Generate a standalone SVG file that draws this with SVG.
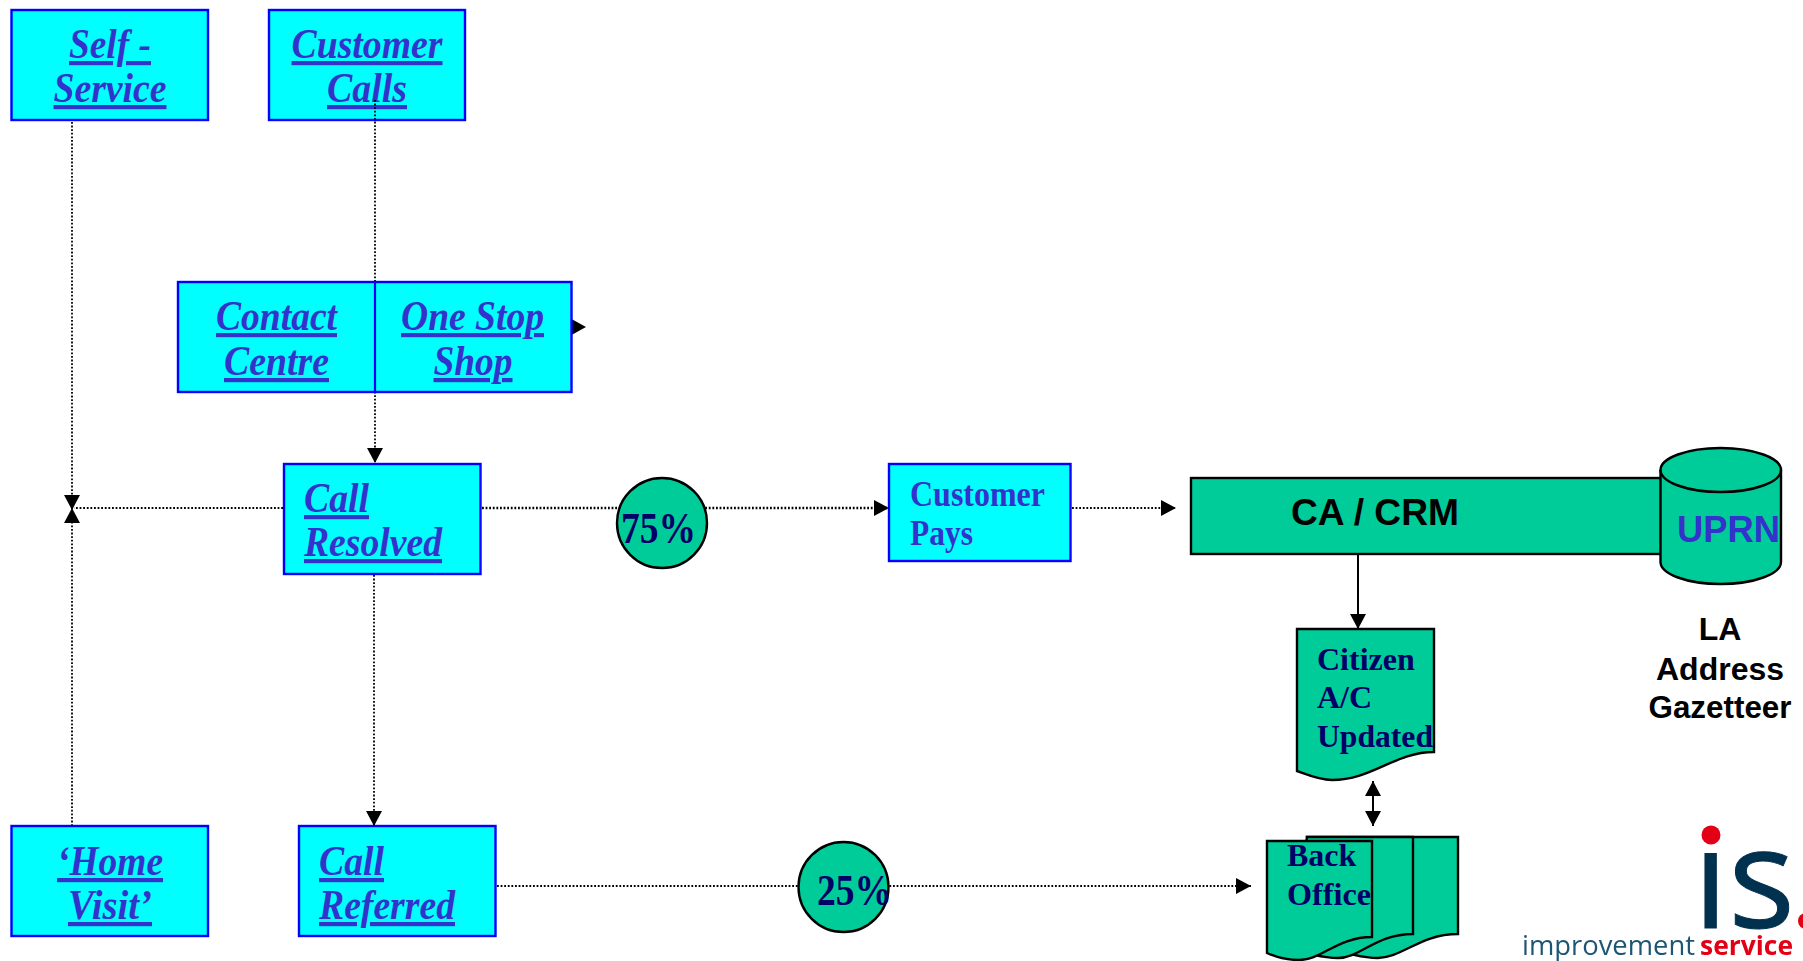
<svg xmlns="http://www.w3.org/2000/svg" width="1803" height="961" viewBox="0 0 1803 961">
<style>
.box{fill:#00ffff;stroke:#0000ff;stroke-width:2.4}
.green{fill:#00cc99;stroke:#000;stroke-width:2.4}
.it{font:italic bold 42px "Liberation Serif",serif;fill:#3333cc;text-decoration:underline;text-decoration-thickness:3.6px;text-underline-offset:3px}
.se{font:bold 36px "Liberation Serif",serif;fill:#3333cc}
.dk{font:bold 32px "Liberation Serif",serif;fill:#000066}
.pc{font:bold 44px "Liberation Serif",serif;fill:#000066}
.sa{font:bold 32px "Liberation Sans",sans-serif;fill:#000}
.m{text-anchor:middle}
.dot{fill:none;stroke:#000;stroke-width:1.8;stroke-dasharray:1.8 1.8}
.sol{fill:none;stroke:#000;stroke-width:2}
</style>
<defs>
<marker id="ah" markerUnits="userSpaceOnUse" markerWidth="16" markerHeight="16" refX="15" refY="8" orient="auto-start-reverse"><path d="M0 0L15 8L0 16Z" fill="#000"/></marker>
<filter id="soft" x="-5%" y="-5%" width="110%" height="110%"><feGaussianBlur stdDeviation="0.7"/></filter>
</defs>
<rect width="1803" height="961" fill="#fff"/>
<g id="self-service"><rect class="box" x="11.500" y="10" width="196.500" height="110"/><text class="it m" x="110" y="58" textLength="82" lengthAdjust="spacingAndGlyphs">Self -</text><text class="it m" x="110" y="102" textLength="113" lengthAdjust="spacingAndGlyphs">Service</text></g>
<g id="customer-calls"><rect class="box" x="269" y="10" width="196" height="110"/><text class="it m" x="367" y="58" textLength="151" lengthAdjust="spacingAndGlyphs">Customer</text><text class="it m" x="367" y="102" textLength="80" lengthAdjust="spacingAndGlyphs">Calls</text></g>
<g id="call-resolved"><rect class="box" x="284" y="464" width="196.500" height="110"/><text class="it" x="304" y="512" textLength="65" lengthAdjust="spacingAndGlyphs">Call</text><text class="it" x="304" y="556" textLength="138" lengthAdjust="spacingAndGlyphs">Resolved</text></g>
<g id="home-visit"><rect class="box" x="11.500" y="826" width="196.500" height="110"/><text class="it m" x="110" y="875" textLength="106" lengthAdjust="spacingAndGlyphs">‘Home</text><text class="it m" x="110" y="919" textLength="84" lengthAdjust="spacingAndGlyphs">Visit’</text></g>
<g id="call-referred"><rect class="box" x="299" y="826" width="196.500" height="110"/><text class="it" x="319" y="875" textLength="65" lengthAdjust="spacingAndGlyphs">Call</text><text class="it" x="319" y="919" textLength="136" lengthAdjust="spacingAndGlyphs">Referred</text></g>
<g id="customer-pays"><rect class="box" x="889" y="464" width="181.500" height="97"/><text class="se" x="910" y="506" textLength="135" lengthAdjust="spacingAndGlyphs">Customer</text><text class="se" x="910" y="545" textLength="63" lengthAdjust="spacingAndGlyphs">Pays</text></g>
<g id="connectors">
<path class="dot" d="M72 122V510" marker-end="url(#ah)"/>
<path class="dot" d="M72 826V508" marker-end="url(#ah)"/>
<path class="dot" d="M375 100V463" marker-end="url(#ah)"/>
<path class="dot" d="M283 508H74"/>
<path class="dot" style="stroke-width:2.400" d="M482 508H889" marker-end="url(#ah)"/>
<path class="dot" d="M1072 508H1176" marker-end="url(#ah)"/>
<path class="dot" d="M374 575V826" marker-end="url(#ah)"/>
<path class="dot" d="M497 886H1251" marker-end="url(#ah)"/>
<path class="sol" d="M1358 554V629" marker-end="url(#ah)"/>
<path class="sol" d="M1373 781V826" marker-start="url(#ah)" marker-end="url(#ah)"/>
<path d="M571.500 319L586 327L571.500 335Z" fill="#000"/>
</g>
<g id="contact-one-stop"><rect class="box" x="178" y="282" width="393.500" height="110"/><path d="M375 282V392" stroke="#0000ff" stroke-width="2.200" fill="none"/><text class="it m" x="276.500" y="330" textLength="121" lengthAdjust="spacingAndGlyphs">Contact</text><text class="it m" x="276.500" y="375" textLength="105" lengthAdjust="spacingAndGlyphs">Centre</text><text class="it m" x="472.500" y="330" textLength="143" lengthAdjust="spacingAndGlyphs">One Stop</text><text class="it m" x="473" y="375" textLength="79" lengthAdjust="spacingAndGlyphs">Shop</text></g>
<g id="pct-75"><circle class="green" cx="662" cy="523" r="45"/><text class="pc" x="621" y="543" textLength="75" lengthAdjust="spacingAndGlyphs">75%</text></g>
<g id="pct-25"><circle class="green" cx="843.500" cy="887" r="45"/><text class="pc" x="817" y="905" textLength="75" lengthAdjust="spacingAndGlyphs">25%</text></g>
<g id="ca-crm"><rect class="green" x="1191" y="478" width="480" height="76"/><text x="1291" y="525" textLength="168" lengthAdjust="spacingAndGlyphs" style="font:bold 37px 'Liberation Sans',sans-serif;fill:#000">CA / CRM</text></g>
<g id="uprn"><path class="green" d="M1660.500 470V562C1660.500 574 1687 584 1720.500 584S1781 574 1781 562V470C1781 458 1754 448 1720.500 448S1660.500 458 1660.500 470Z"/><path class="green" style="fill:none" d="M1660.500 470C1660.500 482 1687 492 1720.500 492S1781 482 1781 470"/><text x="1677" y="542" textLength="103" lengthAdjust="spacingAndGlyphs" style="font:bold 37px 'Liberation Sans',sans-serif;fill:#3333cc">UPRN</text></g>
<g id="la-gazetteer"><text class="sa m" x="1720" y="640">LA</text><text class="sa m" x="1720" y="680" textLength="128" lengthAdjust="spacingAndGlyphs">Address</text><text class="sa m" x="1720" y="718" textLength="143" lengthAdjust="spacingAndGlyphs">Gazetteer</text></g>
<g id="citizen-ac"><path class="green" d="M1297 629H1434V752C1395 752 1372 780 1332 780C1320 780 1308 775 1297 771Z"/><text class="dk" x="1317" y="670">Citizen</text><text class="dk" x="1317" y="708">A/C</text><text class="dk" x="1317" y="747" textLength="116" lengthAdjust="spacingAndGlyphs">Updated</text></g>
<g id="back-office"><path class="green" d="M1307 837H1458V934C1420 934 1402 958 1378 958C1362 958 1346 953 1330 948Z"/><path class="green" d="M1307 837H1413V934C1376 934 1360 958 1338 958C1322 958 1306 953 1290 948Z"/><path class="green" d="M1267 841H1372V937C1337 937 1322 960 1299 960C1287 960 1276 957 1267 953Z"/><text class="dk" x="1287" y="866">Back</text><text class="dk" x="1287" y="905" textLength="84" lengthAdjust="spacingAndGlyphs">Office</text></g>
<g id="logo" filter="url(#soft)"><circle cx="1711" cy="835" r="9.500" fill="#e30613"/><text x="1693" y="928" style="font:140px 'Open Sans',sans-serif;fill:#03304f;stroke:#03304f;stroke-width:1">ıs</text><circle cx="1806" cy="921" r="8" fill="#e30613"/><text x="1522" y="955" textLength="173" lengthAdjust="spacingAndGlyphs" style="font:27px 'Open Sans',sans-serif;fill:#1f5673">improvement</text><text x="1700" y="955" textLength="93" lengthAdjust="spacingAndGlyphs" style="font:bold 27px 'Open Sans',sans-serif;fill:#e30613">service</text></g>
</svg>
